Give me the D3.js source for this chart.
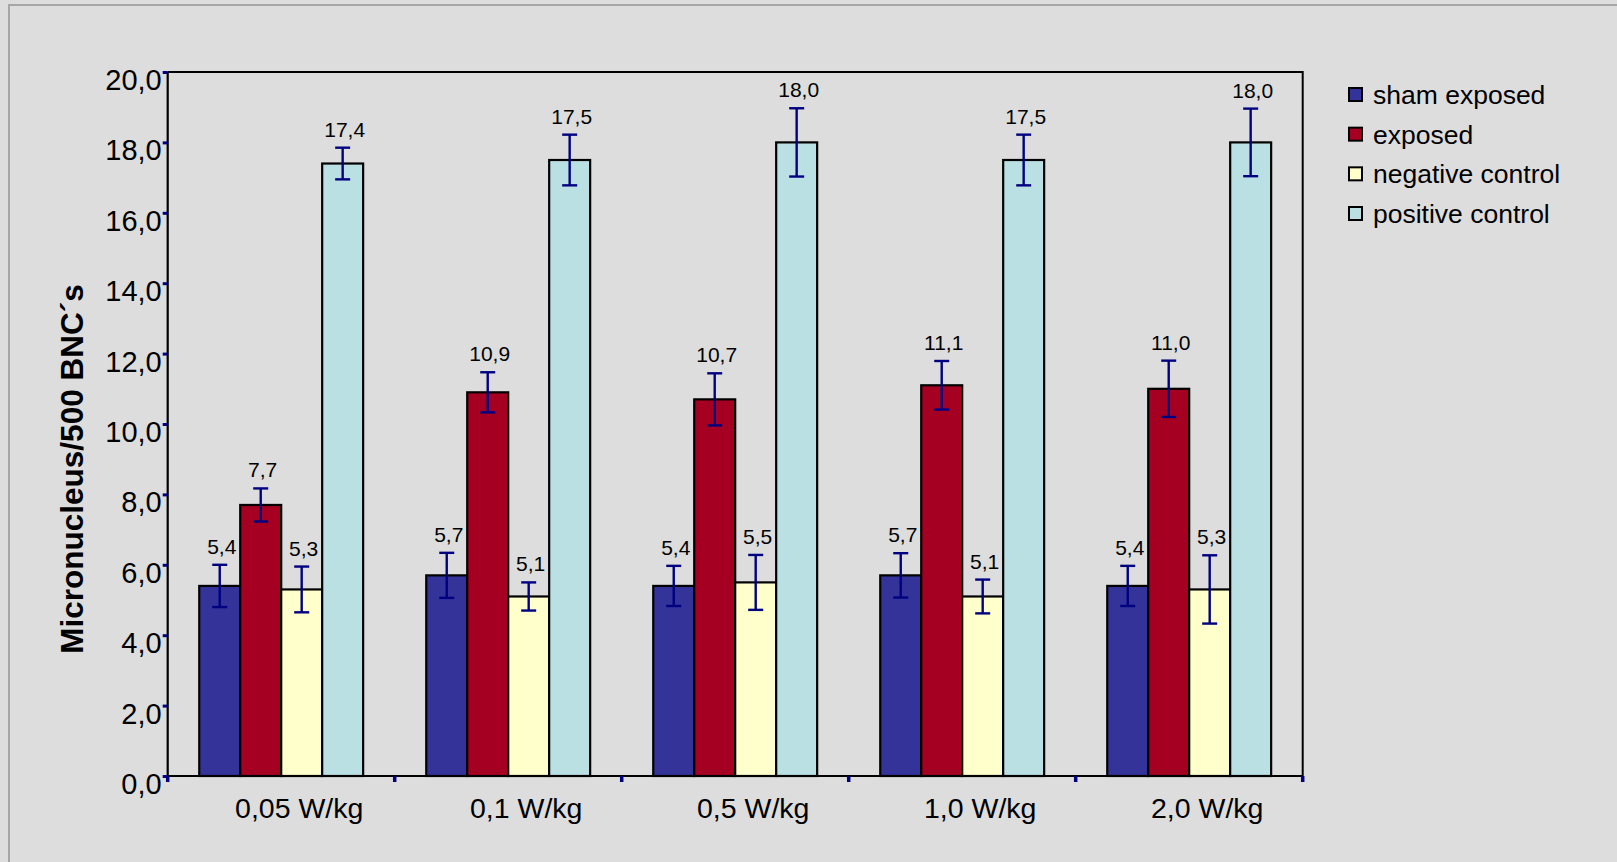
<!DOCTYPE html>
<html>
<head>
<meta charset="utf-8">
<script src="https://cdn.jsdelivr.net/npm/d3@7"></script>
<style>
html,body{margin:0;padding:0;background:#dddddd;}
svg{display:block;font-family:"Liberation Sans",Arial,sans-serif;}
</style>
</head>
<body>
<svg id="chart" width="1617" height="862"></svg>
<script>
const categories = ["0,05 W/kg", "0,1 W/kg", "0,5 W/kg", "1,0 W/kg", "2,0 W/kg"];
const seriesNames = ["sham exposed", "exposed", "negative control", "positive control"];
const shamValues = [5.4, 5.7, 5.4, 5.7, 5.4];
const exposedValues = [7.7, 10.9, 10.7, 11.1, 11.0];
const negativeValues = [5.3, 5.1, 5.5, 5.1, 5.3];
const positiveValues = [17.4, 17.5, 18.0, 17.5, 18.0];
const shamErrors = [0.6, 0.64, 0.57, 0.63, 0.57];
const exposedErrors = [0.47, 0.57, 0.74, 0.69, 0.8];
const negativeErrors = [0.65, 0.4, 0.78, 0.48, 0.97];
const positiveErrors = [0.45, 0.72, 0.97, 0.72, 0.96];
const yTicks = [0, 2, 4, 6, 8, 10, 12, 14, 16, 18, 20];
const yTitle = "Micronucleus/500 BNC´s";
const colors = ["#333399", "#a50021", "#ffffcc", "#bbe0e3"];

const seriesValues = [shamValues, exposedValues, negativeValues, positiveValues];
const seriesErrors = [shamErrors, exposedErrors, negativeErrors, positiveErrors];

const svg = d3.select("#chart");
const W = 1617, H = 862;
const plot = {left: 167.7, right: 1302.7, top: 72, bottom: 776};
const fmt = v => d3.format(".1f")(v).replace(".", ",");

// outer frame
svg.append("rect").attr("x", 0).attr("y", 0).attr("width", W).attr("height", H).attr("fill", "#dddddd");
svg.append("rect").attr("x", 9).attr("y", 5).attr("width", W + 50).attr("height", H + 50)
  .attr("fill", "none").attr("stroke", "#a6a6a6").attr("stroke-width", 2);

const x0 = d3.scaleBand().domain(categories).range([plot.left, plot.right]).paddingInner(0).paddingOuter(0);
const x1 = d3.scaleBand().domain(seriesNames).range([0, x0.bandwidth()]).paddingInner(0).paddingOuter(0.77);
const y = d3.scaleLinear().domain([0, 20]).range([plot.bottom, plot.top]);

// data rows
const rows = [];
categories.forEach((c, ci) => {
  seriesNames.forEach((s, si) => {
    rows.push({cat: c, series: s, si, value: seriesValues[si][ci], err: seriesErrors[si][ci]});
  });
});

// bars
svg.append("g").selectAll("rect").data(rows).join("rect")
  .attr("x", d => x0(d.cat) + x1(d.series))
  .attr("y", d => y(d.value))
  .attr("width", x1.bandwidth())
  .attr("height", d => y(0) - y(d.value))
  .attr("fill", d => colors[d.si])
  .attr("stroke", "#000").attr("stroke-width", 2.2);

// plot frame (top, right)
svg.append("path")
  .attr("d", `M${plot.left},${plot.top}H${plot.right}V${plot.bottom}`)
  .attr("fill", "none").attr("stroke", "#000").attr("stroke-width", 2);

// y axis
const yAxis = d3.axisLeft(y).tickValues(yTicks).tickFormat(fmt).tickSize(5).tickPadding(1);
const gy = svg.append("g").attr("transform", `translate(${plot.left},0)`).call(yAxis);
gy.select(".domain").attr("stroke", "#000").attr("stroke-width", 2.2).attr("d", `M0,${plot.bottom}V${plot.top}`);
gy.selectAll(".tick line").attr("stroke", "#000080").attr("stroke-width", 3);
gy.selectAll(".tick text").attr("font-size", 29).attr("fill", "#000")
  .attr("font-family", "Liberation Sans, Arial, sans-serif").attr("dy", "0.6em");

// x axis
const xAxis = d3.axisBottom(x0).tickSize(0).tickPadding(0);
const gx = svg.append("g").attr("transform", `translate(0,${plot.bottom})`).call(xAxis);
gx.select(".domain").attr("stroke", "#000").attr("stroke-width", 2.2).attr("d", `M${plot.left},0H${plot.right}`);
gx.selectAll(".tick text").attr("font-size", 28.5).attr("fill", "#000")
  .attr("font-family", "Liberation Sans, Arial, sans-serif")
  .attr("y", 42).attr("dy", 0).attr("dx", 18);
// category boundary ticks
const bounds = categories.map(c => x0(c)).concat([plot.right]);
svg.append("g").selectAll("line").data(bounds).join("line")
  .attr("x1", d => d).attr("x2", d => d)
  .attr("y1", plot.bottom).attr("y2", plot.bottom + 6)
  .attr("stroke", "#000080").attr("stroke-width", 3.5);

// error bars
const eg = svg.append("g").attr("stroke", "#000080").attr("stroke-width", 2.4);
rows.forEach(d => {
  const cx = x0(d.cat) + x1(d.series) + x1.bandwidth() / 2;
  const yt = y(d.value + d.err), yb = y(d.value - d.err);
  eg.append("line").attr("x1", cx).attr("x2", cx).attr("y1", yt).attr("y2", yb);
  eg.append("line").attr("x1", cx - 7.5).attr("x2", cx + 7.5).attr("y1", yt).attr("y2", yt);
  eg.append("line").attr("x1", cx - 7.5).attr("x2", cx + 7.5).attr("y1", yb).attr("y2", yb);
});

// value labels
svg.append("g").selectAll("text").data(rows).join("text")
  .attr("x", d => x0(d.cat) + x1(d.series) + x1.bandwidth() / 2 + 2)
  .attr("y", d => y(d.value + d.err) - 11)
  .attr("text-anchor", "middle")
  .attr("font-size", 21).attr("fill", "#000")
  .text(d => fmt(d.value));

// y title
svg.append("text")
  .attr("transform", `translate(83,469) rotate(-90)`)
  .attr("text-anchor", "middle")
  .attr("font-size", 31.5).attr("font-weight", "bold").attr("fill", "#000")
  .text(yTitle);

// legend
const lg = svg.append("g").attr("transform", "translate(1349,0)");
const legendY = d3.scalePoint().domain(seriesNames).range([95, 214]);
seriesNames.forEach((s, i) => {
  const cy = legendY(s);
  lg.append("rect").attr("x", 0).attr("y", cy - 7).attr("width", 13).attr("height", 13)
    .attr("fill", colors[i]).attr("stroke", "#000").attr("stroke-width", 2);
  lg.append("text").attr("x", 24).attr("y", cy + 9)
    .attr("font-size", 26.5).attr("fill", "#000").text(s);
});
</script>
</body>
</html>
